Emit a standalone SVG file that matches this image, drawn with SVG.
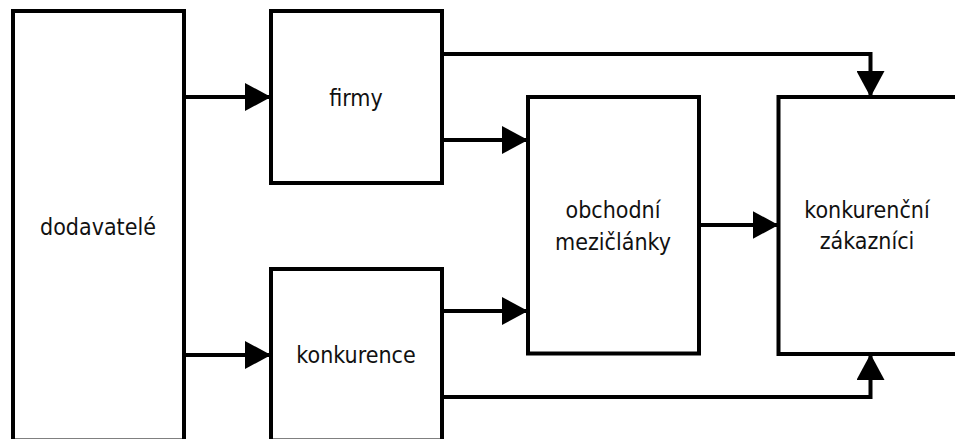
<svg xmlns="http://www.w3.org/2000/svg" width="955" height="439" viewBox="0 0 955 439">
  <style>
    .box { fill: #ffffff; stroke: #000000; stroke-width: 4; }
    .conn { fill: none; stroke: #000000; stroke-width: 4; }
    .lbl { font-family: "DejaVu Sans Condensed", "DejaVu Sans", sans-serif; font-size: 23px; fill: #111111; text-anchor: middle; }
  </style>
  <defs>
    <marker id="arrow" markerUnits="userSpaceOnUse" markerWidth="26" markerHeight="28" refX="26" refY="14" orient="auto">
      <path d="M0,0 L26,14 L0,28 Z" fill="#000000"/>
    </marker>
  </defs>
  <rect width="955" height="439" fill="#ffffff"/>
  <g id="dodavatele">
    <rect class="box" x="13" y="11" width="171" height="429.5"/>
    <text class="lbl" x="98" y="235">dodavatelé</text>
  </g>
  <g id="firmy">
    <rect class="box" x="271" y="11" width="171" height="172"/>
    <text class="lbl" x="356" y="106">firmy</text>
  </g>
  <g id="konkurence">
    <rect class="box" x="271" y="269" width="171" height="171.5"/>
    <text class="lbl" x="356" y="363">konkurence</text>
  </g>
  <g id="obchodni">
    <rect class="box" x="528" y="97" width="171" height="256.5"/>
    <text class="lbl" x="613" y="218">obchodní</text>
    <text class="lbl" x="613" y="250">mezičlánky</text>
  </g>
  <g id="zakaznici">
    <rect class="box" x="778.5" y="97" width="200" height="257"/>
    <text class="lbl" x="867" y="218">konkurenční</text>
    <text class="lbl" x="867" y="249">zákazníci</text>
  </g>
  <g id="connectors">
    <path class="conn" d="M184,97 H271" marker-end="url(#arrow)"/>
    <path class="conn" d="M184,355 H271" marker-end="url(#arrow)"/>
    <path class="conn" d="M442,140 H528" marker-end="url(#arrow)"/>
    <path class="conn" d="M442,311 H528" marker-end="url(#arrow)"/>
    <path class="conn" d="M699,225 H778.5" marker-end="url(#arrow)"/>
    <path class="conn" d="M442,54 H870.5 V97" marker-end="url(#arrow)"/>
    <path class="conn" d="M442,397 H870.5 V354" marker-end="url(#arrow)"/>
  </g>
</svg>
